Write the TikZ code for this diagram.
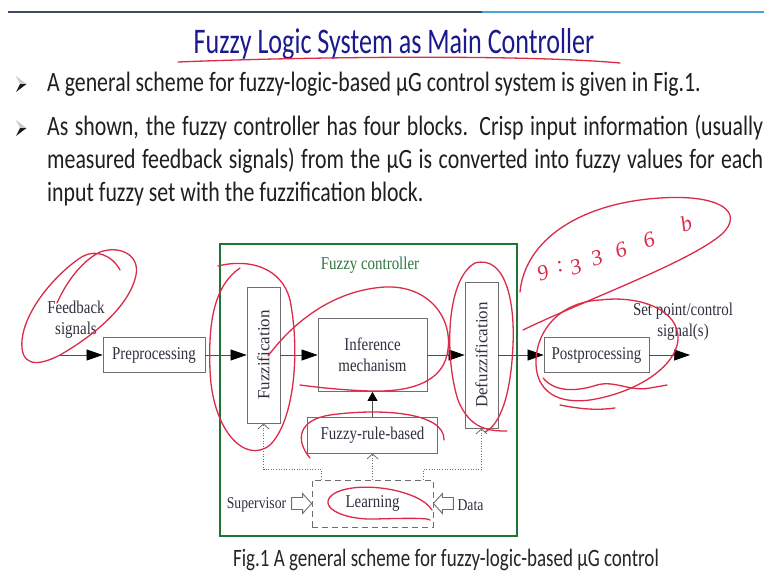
\documentclass[tikz,border=0pt]{standalone}
\usepackage{fontspec}
\setmainfont{Carlito}
\newfontfamily\titlefont{Carlito}[FakeStretch=0.725]
\newfontfamily\bodyfont{Carlito}[FakeStretch=0.78]
\newfontfamily\capfont{Carlito}[FakeStretch=0.76]
\newfontfamily\figfont{Liberation Serif}[FakeStretch=0.83]
\newfontfamily\figfontup{Liberation Serif}
\usetikzlibrary{arrows.meta, calc}

\definecolor{slidenavy}{HTML}{1A1A8E}
\definecolor{barslate}{HTML}{414B68}
\definecolor{barsky}{HTML}{4DA3D8}
\definecolor{ctrlgreen}{HTML}{217333}
\definecolor{inkred}{HTML}{DC2B48}
\definecolor{figgray}{HTML}{6E6E6E}
\definecolor{figtext}{HTML}{30303E}

\begin{document}
\begin{tikzpicture}[
          x=1pt, y=-1pt,
          titletext/.style={inner sep=0pt, anchor=base, text=slidenavy,
            font=\titlefont\fontsize{36}{40}\selectfont},
          bodytext/.style={inner sep=0pt, anchor=base west, text=black!88,
            font=\bodyfont\fontsize{28}{33}\selectfont},
          captext/.style={inner sep=0pt, anchor=base, text=black!85,
            font=\capfont\fontsize{25}{30}\selectfont},
          lab/.style={inner sep=0pt, align=center, text=figtext,
            font=\figfont\fontsize{18}{21}\selectfont},
          smalllab/.style={inner sep=0pt, text=figtext,
            font=\figfont\fontsize{16.5}{19}\selectfont},
          vlab/.style={inner sep=0pt, rotate=90, text=figtext,
            font=\figfontup\fontsize{17}{19}\selectfont},
          block/.style={draw=figgray, line width=0.8pt, inner sep=0pt, lab},
          learnbox/.style={block, dash pattern=on 6pt off 4pt},
          flow/.style={draw=figgray!70!black, line width=0.7pt,
            -{Triangle[length=16pt, width=11pt, color=black]}},
          flowsmall/.style={draw=figgray!70!black, line width=0.7pt,
            -{Triangle[length=9pt, width=10pt, color=black]}},
          feed/.style={draw=figgray, line width=0.8pt, dash pattern=on 1pt off 1.6pt,
            -{Straight Barb[length=5pt, width=11pt]}},
          ink/.style={draw=inkred, line width=1.3pt, line cap=round, line join=round},
          inkdigit/.style={inner sep=0pt, text=inkred, rotate=18,
            font=\figfontup\itshape\fontsize{22}{22}\selectfont},
          bulletmark/.pic={
            \fill[gray!40] (-5.5,-8) -- (5,0) -- (-1.5,0) -- cycle;
            \fill[black!90] (-1.5,0) -- (5,0) -- (-5.5,8) -- cycle;
          },
          hollowarrow/.pic={
            \draw[figgray, line width=0.9pt, fill=white]
              (0,0) -- (-9,-10) -- (-9,-6) -- (-20,-6) -- (-20,6) -- (-9,6) -- (-9,10) -- cycle;
          },
        ]

        \path[use as bounding box, fill=white] (0,0) rectangle (764,582);

        % slide header bar
        \draw[barslate, line width=2.2pt] (8,12) -- (482,12);
        \draw[barsky, line width=2.2pt] (482,12) -- (764,12);

        \node[titletext] (title) at (394,53) {Fuzzy Logic System as Main Controller};

        % bullet points (second one is a justified paragraph)
        \pic at (21.5,84) {bulletmark};
        \node[bodytext] (pt1) at (47,91)
          {A general scheme for fuzzy-logic-based µG control system is given in Fig.1.};
        \pic at (21.5,128) {bulletmark};
        \node[bodytext, text width=716pt, align=justify] (pt2) at (47,135)
          {As shown, the fuzzy controller has four blocks. Crisp input information (usually\linebreak
           measured feedback signals) from the µG is converted into fuzzy values for each\linebreak
           input fuzzy set with the fuzzification block.};

        % --- controller frame ---
        \draw[ctrlgreen, line width=2.6pt] (220,244) rectangle (517,536);
        \node[lab, text=ctrlgreen!85!gray] (ctrlname) at (370,265) {Fuzzy controller};

        % main signal chain
        \node[block, minimum width=102pt, minimum height=35pt] (prep) at (154,355) {Preprocessing};
        \node[block, minimum width=33pt, minimum height=136pt] (fuzz) at (263.5,355) {};
        \node[vlab] at (fuzz.center) {Fuzzification};
        \node[block, minimum width=109pt, minimum height=73pt] (infer) at (372.5,355) {Inference\\mechanism};
        \node[block, minimum width=33pt, minimum height=146pt] (defuzz) at (481.5,355) {};
        \node[vlab] at (defuzz.center) {Defuzzification};
        \node[block, minimum width=105pt, minimum height=35pt] (post) at (596.5,355) {Postprocessing};

        \node[block, minimum width=130pt, minimum height=36pt] (rule) at (372.5,435) {Fuzzy-rule-based};
        \node[learnbox, minimum width=121pt, minimum height=47pt] (learn) at (372.5,503.5) {Learning};

        \node[lab] (fbtxt) at (76,320) {Feedback\\signals};
        \node[lab] (sptxt) at (683,322) {Set point/control\\signal(s)};
        \node[smalllab] (sup) at (256.5,505) {Supervisor};
        \node[smalllab] (dat) at (470.5,505) {Data};

        \coordinate (fbin) at (60,355);
        \coordinate (spout) at (690,355);

        \draw[flow] (fbin) -- (prep);
        \draw[flow] (prep) -- (fuzz);
        \draw[flow] (fuzz) -- (infer);
        \draw[flow] (infer) -- (defuzz);
        \draw[flow] (defuzz) -- (post);
        \draw[flow] (post) -- (spout);
        \draw[flowsmall] (rule) -- (infer);

        % learning paths (dotted)
        \draw[feed] ([xshift=10pt]learn.north west) -- ++(0,-10) -| (fuzz.south);
        \draw[feed] (learn) -- (rule);
        \draw[feed] ([xshift=-10pt]learn.north east) -- ++(0,-10) -| (defuzz.south);

        \pic at (learn.west) {hollowarrow};
        \pic[rotate=180] at (learn.east) {hollowarrow};

        \node[captext] (cap) at (446,566) {Fig.1 A general scheme for fuzzy-logic-based µG control};

        % --- pen marks ---
        \draw[ink] (178,62) .. controls (300,57) and (520,54) .. (620,63);

        \draw[ink] (120,270) .. controls (112,255) and (95,248) .. (80,258)
          .. controls (55,275) and (25,310) .. (22,340)
          .. controls (20,365) and (35,368) .. (60,355)
          .. controls (95,335) and (130,305) .. (136,275)
          .. controls (140,255) and (120,245) .. (100,252)
          .. controls (80,262) and (65,285) .. (57,303);

        \draw[ink] (218,266) .. controls (250,258) and (282,268) .. (290,300)
          .. controls (300,350) and (295,420) .. (270,445)
          .. controls (245,465) and (212,430) .. (210,370)
          .. controls (208,320) and (215,285) .. (240,268);

        \draw[ink] (268,356) .. controls (295,320) and (335,290) .. (385,287)
          .. controls (430,285) and (455,320) .. (447,355)
          .. controls (440,385) and (405,392) .. (370,391)
          .. controls (340,390) and (315,387) .. (300,385);

        \draw[ink] (310,458) .. controls (295,440) and (298,420) .. (330,415)
          .. controls (380,408) and (445,412) .. (444,440);

        \draw[ink] (432,510) .. controls (420,490) and (360,480) .. (335,493)
          .. controls (315,505) and (340,520) .. (375,519)
          .. controls (410,518) and (428,518) .. (430,520);

        \draw[ink] (507,431) .. controls (490,431) and (470,430) .. (458,400)
          .. controls (445,360) and (445,280) .. (475,263)
          .. controls (505,255) and (515,300) .. (513,345)
          .. controls (511,395) and (500,425) .. (485,432);

        \draw[ink] (600,300) .. controls (640,295) and (680,310) .. (678,340)
          .. controls (676,365) and (640,392) .. (590,400)
          .. controls (550,405) and (535,385) .. (536,360)
          .. controls (537,330) and (560,302) .. (600,300);
        \draw[ink] (543,378) .. controls (555,392) and (575,392) .. (597,385)
          .. controls (615,380) and (630,392) .. (650,388) -- (667,385);
        \draw[ink] (560,405) .. controls (585,410) and (600,410) .. (615,408);

        \draw[ink] (520,292) .. controls (525,240) and (580,203) .. (660,198)
          .. controls (720,194) and (745,212) .. (722,234)
          .. controls (690,262) and (585,300) .. (523,330);

        % handwritten time stamp
        \node[inkdigit] (hw1) at (543,273) {9};
        \node[inkdigit] (hw1c) at (560,267) {:};
        \node[inkdigit] (hw2) at (576,267) {3};
        \node[inkdigit] (hw3) at (597,258) {3};
        \node[inkdigit] (hw4) at (621,250) {6};
        \node[inkdigit] (hw5) at (649,240) {6};
        \node[inkdigit] (hw6) at (686,224) {b};

\end{tikzpicture}
\end{document}
